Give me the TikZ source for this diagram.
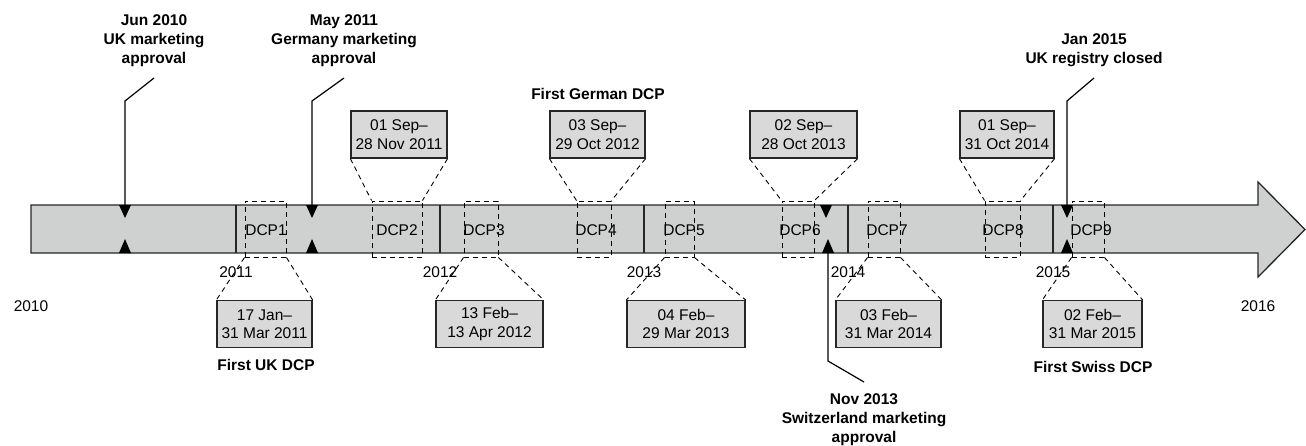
\documentclass[tikz,border=0pt]{standalone}
\usepackage{fontspec}
\setmainfont{Liberation Sans}
\usepackage{tikz}
\usetikzlibrary{calc}
\definecolor{bargray}{RGB}{207,209,208}
\definecolor{boxgray}{RGB}{217,217,217}

\begin{document}
\begin{tikzpicture}[x=1pt,y=-1pt,
  txt/.style={font=\fontsize{15.5}{18.5}\selectfont, align=center},
  bold/.style={font=\fontsize{15.5}{19}\selectfont\bfseries, align=center},
  callout/.style={bold, inner sep=11pt},
  datebox/.style={txt, draw=black!85, line width=1.2pt, fill=boxgray, minimum height=47pt, inner sep=1pt},
  dcpbox/.style={draw, line width=0.9pt, dash pattern=on 5pt off 4pt, minimum height=56pt, inner sep=0pt},
  zoomline/.style={line width=0.9pt, dash pattern=on 5pt off 4pt},
  callline/.style={line width=1.2pt}]
\useasboundingbox (0,0) rectangle (1306,445);
\draw[draw=black!85, line width=1.3pt, fill=bargray] (31,205) -- (1258,205) -- (1258,182) -- (1305,229.5) -- (1258,277) -- (1258,253) -- (31,253) -- cycle;
\draw[black!85, line width=1.2pt] (236,205) -- (236,253);
\draw[black!85, line width=1.2pt] (440,205) -- (440,253);
\draw[black!85, line width=1.2pt] (644,205) -- (644,253);
\draw[black!85, line width=1.2pt] (848,205) -- (848,253);
\draw[black!85, line width=1.2pt] (1053,205) -- (1053,253);
\node[txt] (y2010) at (31,306) {2010};
\node[txt] (y2011) at (236,272) {2011};
\node[txt] (y2012) at (440,272) {2012};
\node[txt] (y2013) at (644,272) {2013};
\node[txt] (y2014) at (848,272) {2014};
\node[txt] (y2015) at (1053,272) {2015};
\node[txt] (y2016) at (1258,306) {2016};
\fill (119,205) -- (131,205) -- (125,218) -- cycle;
\fill (119,253) -- (131,253) -- (125,239) -- cycle;
\fill (306,205) -- (318,205) -- (312,218) -- cycle;
\fill (306,253) -- (318,253) -- (312,239) -- cycle;
\fill (820,205) -- (832,205) -- (826,218) -- cycle;
\fill (822,253) -- (834,253) -- (828,239) -- cycle;
\fill (1061,205) -- (1073,205) -- (1067,218) -- cycle;
\fill (1061,253) -- (1073,253) -- (1067,239) -- cycle;
\coordinate (mjun) at (125,205);
\coordinate (mmay) at (312,205);
\coordinate (mnov) at (828,253);
\coordinate (mjan) at (1067,205);
\node[txt] (l1) at (266,230) {DCP1};
\node[txt] (l2) at (397,230) {DCP2};
\node[txt] (l3) at (484,230) {DCP3};
\node[txt] (l4) at (596,230) {DCP4};
\node[txt] (l5) at (684,230) {DCP5};
\node[txt] (l6) at (800,230) {DCP6};
\node[txt] (l7) at (887,230) {DCP7};
\node[txt] (l8) at (1003,230) {DCP8};
\node[txt] (l9) at (1091,230) {DCP9};
\node[dcpbox, minimum width=41pt] (p1) at (265.5,229) {};
\node[dcpbox, minimum width=50pt] (p2) at (397,229) {};
\node[dcpbox, minimum width=34pt] (p3) at (481,229) {};
\node[dcpbox, minimum width=34pt] (p4) at (594,229) {};
\node[dcpbox, minimum width=29pt] (p5) at (679.5,229) {};
\node[dcpbox, minimum width=32pt] (p6) at (798,229) {};
\node[dcpbox, minimum width=32pt] (p7) at (884,229) {};
\node[dcpbox, minimum width=35pt] (p8) at (1002.5,229) {};
\node[dcpbox, minimum width=32pt] (p9) at (1088,229) {};
\node[datebox, minimum width=95pt] (d1) at (264.5,324) {17 Jan–\\31 Mar 2011};
\node[datebox, minimum width=96pt] (d2) at (399,134.5) {01 Sep–\\28 Nov 2011};
\node[datebox, minimum width=107pt] (d3) at (489.5,324) {13 Feb–\\13 Apr 2012};
\node[datebox, minimum width=95pt] (d4) at (597.5,134.5) {03 Sep–\\29 Oct 2012};
\node[datebox, minimum width=118pt] (d5) at (686,324) {04 Feb–\\29 Mar 2013};
\node[datebox, minimum width=107pt] (d6) at (803.5,134.5) {02 Sep–\\28 Oct 2013};
\node[datebox, minimum width=105pt] (d7) at (888.5,324) {03 Feb–\\31 Mar 2014};
\node[datebox, minimum width=94pt] (d8) at (1007,134.5) {01 Sep–\\31 Oct 2014};
\node[datebox, minimum width=99pt] (d9) at (1092.5,324) {02 Feb–\\31 Mar 2015};
\draw[zoomline] (p1.south west) -- (d1.north west);
\draw[zoomline] (p1.south east) -- (d1.north east);
\draw[zoomline] (d2.south west) -- (p2.north west);
\draw[zoomline] (d2.south east) -- (p2.north east);
\draw[zoomline] (p3.south west) -- (d3.north west);
\draw[zoomline] (p3.south east) -- (d3.north east);
\draw[zoomline] (d4.south west) -- (p4.north west);
\draw[zoomline] (d4.south east) -- (p4.north east);
\draw[zoomline] (p5.south west) -- (d5.north west);
\draw[zoomline] (p5.south east) -- (d5.north east);
\draw[zoomline] (d6.south west) -- (p6.north west);
\draw[zoomline] (d6.south east) -- (p6.north east);
\draw[zoomline] (p7.south west) -- (d7.north west);
\draw[zoomline] (p7.south east) -- (d7.north east);
\draw[zoomline] (d8.south west) -- (p8.north west);
\draw[zoomline] (d8.south east) -- (p8.north east);
\draw[zoomline] (p9.south west) -- (d9.north west);
\draw[zoomline] (p9.south east) -- (d9.north east);
\node[bold] (f1) at (266,365) {First UK DCP};
\node[bold] (f2) at (598,94) {First German DCP};
\node[bold] (f3) at (1093,367) {First Swiss DCP};
\node[callout, anchor=south] (cjun) at (154,78) {Jun 2010\\UK marketing\\approval};
\node[callout, anchor=south] (cmay) at (344,78) {May 2011\\Germany marketing\\approval};
\node[callout, anchor=north] (cnov) at (864,382) {Nov 2013\\Switzerland marketing\\approval};
\node[callout, anchor=south] (cjan) at (1094,78) {Jan 2015\\UK registry closed};
\draw[callline] (mjun) -- (125,101) -- (cjun.south);
\draw[callline] (mmay) -- (312,101) -- (cmay.south);
\draw[callline] (mnov) -- (828,361) -- (cnov.north);
\draw[callline] (mjan) -- (1067,101) -- (cjan.south);
\end{tikzpicture}
\end{document}
